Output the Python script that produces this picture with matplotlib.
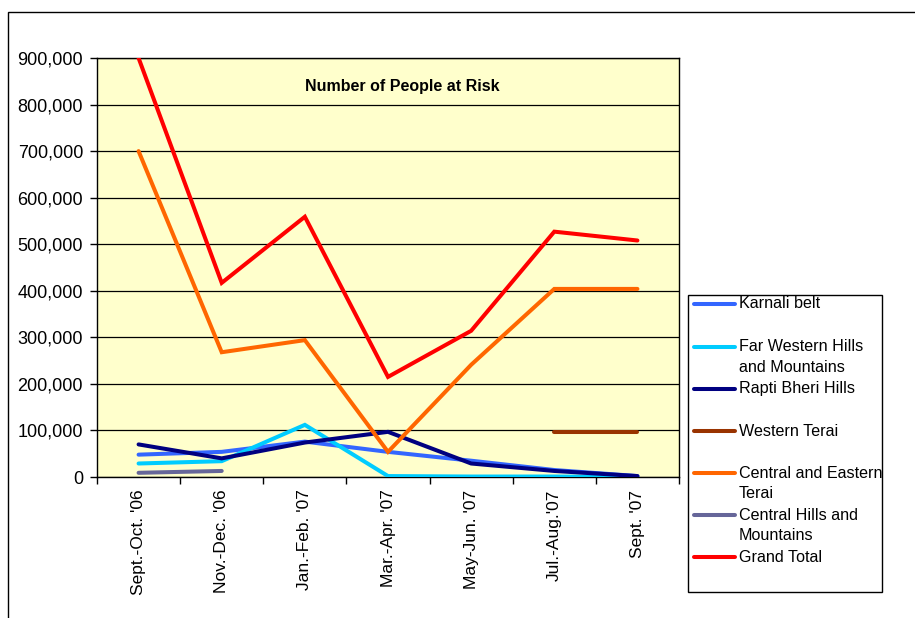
import numpy as np
import matplotlib
matplotlib.use("Agg")
import matplotlib.pyplot as plt
from matplotlib.lines import Line2D
from matplotlib.patches import Rectangle
from matplotlib.ticker import FuncFormatter

plt.rcParams['font.family'] = ['Liberation Sans', 'DejaVu Sans']

periods = ["Sept.-Oct. '06", "Nov.-Dec. '06", "Jan.-Feb. '07", "Mar.-Apr. '07",
           "May-Jun. '07", "Jul.-Aug.'07", "Sept. '07"]

karnali_belt = [48000, 54000, 76000, 54000, 35000, 15000, 2000]
far_western = [29000, 34000, 112000, 2000, 1000, 1000, 0]
rapti_bheri = [70000, 40000, 74000, 97000, 29000, 13000, 2000]
western_terai = [np.nan, np.nan, np.nan, np.nan, np.nan, 96000, 96000]
central_eastern = [700000, 268000, 294000, 54000, 241000, 404000, 404000]
central_hills = [9000, 13000, np.nan, np.nan, np.nan, np.nan, np.nan]
grand_total = [900000, 417000, 559000, 215000, 314000, 527000, 508000]

series = [
    ("Karnali belt", karnali_belt, "#3366FF"),
    ("Far Western Hills\nand Mountains", far_western, "#00CCFF"),
    ("Rapti Bheri Hills", rapti_bheri, "#000080"),
    ("Western Terai", western_terai, "#993300"),
    ("Central and Eastern\nTerai", central_eastern, "#FF6600"),
    ("Central Hills and\nMountains", central_hills, "#666699"),
    ("Grand Total", grand_total, "#FF0000"),
]

W, H = 915, 618
fig = plt.figure(figsize=(W / 100, H / 100), dpi=100)


def fx(px):
    return px / W


def fy(py):
    return 1 - py / H


# outer chart border (only its top and left edges fall inside the image)
fig.add_artist(Rectangle((fx(8), fy(640)), fx(940), (640 - 12) / H,
                         transform=fig.transFigure, fill=False,
                         edgecolor='black', linewidth=1))

ax = fig.add_axes([fx(97), fy(477), fx(679) - fx(97), fy(58) - fy(477)])
ax.set_facecolor('#FFFFCC')

x = np.arange(len(periods))
for label, values, color in series:
    ax.plot(x, values, color=color, linewidth=2.9, solid_capstyle='round',
            solid_joinstyle='miter', zorder=3)

ax.set_xlim(-0.5, len(periods) - 0.5)
ax.set_ylim(0, 900000)
ax.set_yticks(np.arange(0, 900001, 100000))
ax.yaxis.set_major_formatter(FuncFormatter(lambda v, p: f"{v:,.0f}"))
ax.grid(axis='y', color='black', linewidth=0.9, zorder=1)

ax.set_xticks(np.arange(-0.5, len(periods), 1.0))
ax.set_xticklabels([])
ax.set_xticks(x, minor=True)
ax.set_xticklabels(periods, minor=True, rotation=90, fontsize=12.5)
ax.tick_params(axis='x', which='major', length=5, width=1, direction='out')
ax.tick_params(axis='x', which='minor', length=0, pad=9)
ax.tick_params(axis='y', length=5, width=1, direction='out', labelsize=13, pad=5)

for s in ax.spines.values():
    s.set_color('black')
    s.set_linewidth(1)

ax.text(0.525, 0.931, "Number of People at Risk", transform=ax.transAxes,
        ha='center', va='center', fontsize=11.5, fontweight='bold')

# legend box
fig.add_artist(Rectangle((fx(688), fy(592)), fx(882) - fx(688), fy(295) - fy(592),
                         transform=fig.transFigure, facecolor='white',
                         edgecolor='black', linewidth=1))
entry_y = [304, 346.5, 388.5, 431, 473, 515, 557]
for (label, values, color), ey in zip(series, entry_y):
    fig.add_artist(Line2D([fx(694), fx(735)], [fy(ey), fy(ey)],
                          transform=fig.transFigure, color=color,
                          linewidth=2.9, solid_capstyle='round'))
    for i, line in enumerate(label.split("\n")):
        fig.text(fx(739), fy(ey + 21 * i), line, ha='left', va='center',
                 fontsize=11.6)

fig.savefig("out.png", dpi=100)
